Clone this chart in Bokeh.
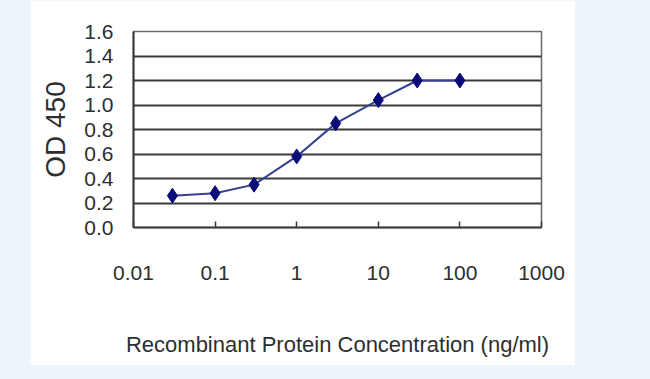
from bokeh.plotting import figure
from bokeh.models import FixedTicker, Range1d, Spacer, CustomJSTickFormatter
from bokeh.layouts import row
from bokeh.embed import file_html
from bokeh.resources import INLINE

# data
conc = [0.03, 0.1, 0.3, 1, 3, 10, 30, 100]
od450 = [0.26, 0.28, 0.35, 0.58, 0.85, 1.04, 1.20, 1.20]
x_ticks = [0.01, 0.1, 1, 10, 100, 1000]
x_tick_labels = ["0.01", "0.1", "1", "10", "100", "1000"]
y_ticks = [0.0, 0.2, 0.4, 0.6, 0.8, 1.0, 1.2, 1.4, 1.6]
y_tick_labels = ["0.0", "0.2", "0.4", "0.6", "0.8", "1.0", "1.2", "1.4", "1.6"]

FONT = "Liberation Sans"
TXT = "#2e2e2e"

p = figure(x_axis_type="log",
           x_range=Range1d(0.01, 1000), y_range=Range1d(0, 1.6),
           frame_width=408, frame_height=196,
           min_border_left=103, min_border_right=34,
           min_border_top=31, min_border_bottom=138,
           output_backend="svg", toolbar_location=None,
           background_fill_color="white", border_fill_color="white")

p.outline_line_color = "#6a6a6a"
p.outline_line_width = 1.5

fmt_js = """
let best = 0, bd = Infinity;
for (let i = 0; i < tv.length; i++) {
  const dd = uselog ? Math.abs(Math.log(tick) - Math.log(tv[i])) : Math.abs(tick - tv[i]);
  if (dd < bd) { bd = dd; best = i; }
}
return labs[best];
"""

# x axis
xa = p.xaxis[0]
xa.ticker = FixedTicker(ticks=x_ticks, minor_ticks=[])
xa.formatter = CustomJSTickFormatter(args=dict(tv=x_ticks, labs=x_tick_labels, uselog=True), code=fmt_js)
xa.axis_label = "Recombinant Protein Concentration (ng/ml)"
xa.axis_label_text_font = FONT
xa.axis_label_text_font_size = "22px"
xa.axis_label_text_font_style = "normal"
xa.axis_label_text_color = TXT
xa.axis_label_standoff = 49
xa.major_label_text_font = FONT
xa.major_label_text_font_size = "21px"
xa.major_label_text_color = TXT
xa.major_label_standoff = 38
xa.major_tick_in = 6
xa.major_tick_out = 0
xa.minor_tick_in = 0
xa.minor_tick_out = 0
xa.axis_line_color = "#3a3a3a"
xa.axis_line_width = 2
xa.major_tick_line_color = "#3a3a3a"
xa.major_tick_line_width = 1.5

# y axis
ya = p.yaxis[0]
ya.ticker = FixedTicker(ticks=y_ticks, minor_ticks=[])
ya.formatter = CustomJSTickFormatter(args=dict(tv=y_ticks, labs=y_tick_labels, uselog=False), code=fmt_js)
ya.axis_label = "OD 450"
ya.axis_label_text_font = FONT
ya.axis_label_text_font_size = "28px"
ya.axis_label_text_font_style = "normal"
ya.axis_label_text_color = TXT
ya.axis_label_standoff = 10
ya.major_label_text_font = FONT
ya.major_label_text_font_size = "21px"
ya.major_label_text_color = TXT
ya.major_label_standoff = 20
ya.major_tick_in = 0
ya.major_tick_out = 0
ya.minor_tick_in = 0
ya.minor_tick_out = 0
ya.axis_line_color = "#3a3a3a"
ya.axis_line_width = 2

p.xgrid.grid_line_color = None
p.ygrid.ticker = FixedTicker(ticks=y_ticks)
p.ygrid.grid_line_color = "#3a3a3a"
p.ygrid.grid_line_width = 2

p.line(conc, od450, line_color="#34408f", line_width=2)
p.scatter(conc, od450, marker="diamond", size=15, fill_color="#0b0b7a", line_color="#0b0b7a")

layout = row(Spacer(width=30, height=365), p)

html = file_html(layout, INLINE)
style = "<style>html, body { margin: 0; padding: 0; background-color: #edf4fa; }</style>"
html = html.replace("</head>", style + "</head>", 1)
open("out.html", "w").write(html)
